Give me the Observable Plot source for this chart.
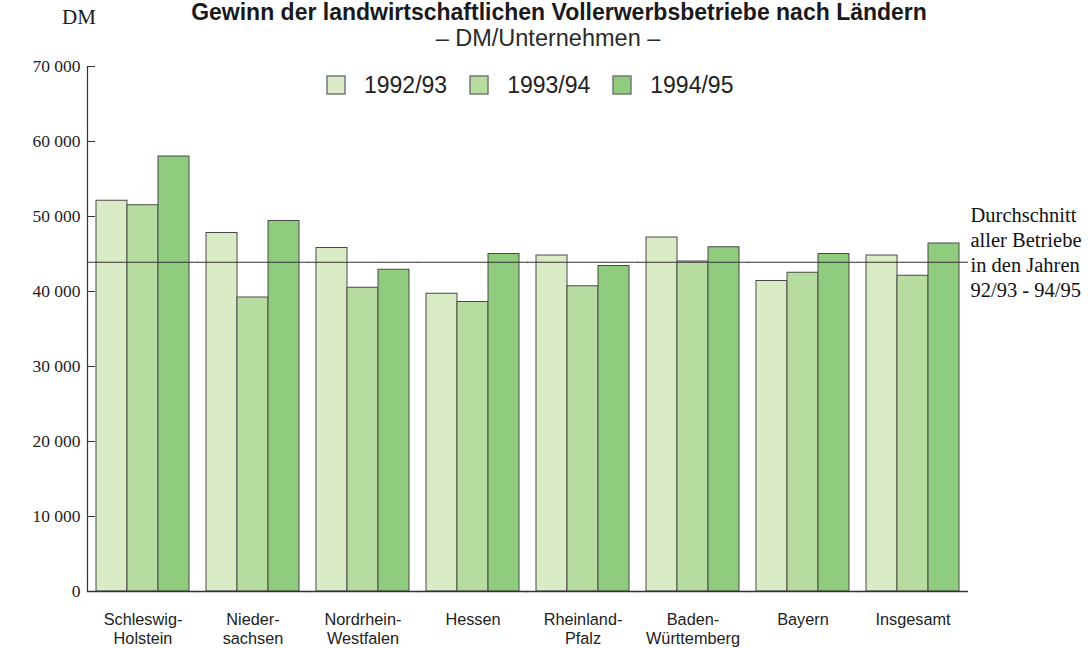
<!DOCTYPE html>
<html><head><meta charset="utf-8">
<script src="https://cdn.jsdelivr.net/npm/d3@7"></script>
<script src="https://cdn.jsdelivr.net/npm/@observablehq/plot@0.6"></script>
<style>
body{margin:0;background:#fff;}
#wrap{position:relative;width:1091px;height:648px;overflow:hidden;background:#fff;}
#title{position:absolute;left:0;width:1118px;top:0px;text-align:center;font:bold 23px "Liberation Sans",Arial,sans-serif;line-height:24px;color:#1a1a1a;white-space:nowrap;}
#subtitle{position:absolute;left:0;width:1096px;top:25px;text-align:center;font:23.5px "Liberation Sans",Arial,sans-serif;line-height:26px;color:#2a2a2a;white-space:nowrap;}
#dm{position:absolute;left:62px;top:5px;font:21px "Liberation Serif","Times New Roman",serif;color:#1a1a1a;}
#legend{position:absolute;left:327px;top:70px;}
#legend .leg-swatches{font:23px "Liberation Sans",Arial,sans-serif;color:#222;margin:0;}
#legend .leg-swatches-wrap{min-height:30px;}
#legend .leg-swatches-wrap .leg-swatch{margin-right:23px;}
#legend .leg-swatch > svg{margin-right:19px;stroke:#777;stroke-width:1.5px;overflow:visible;}
#chart{position:absolute;left:0;top:0;}
</style>
</head><body>
<div id="wrap">
  <div id="chart"></div>
  <div id="title"></div>
  <div id="subtitle"></div>
  <div id="dm"></div>
  <div id="legend"></div>
</div>
<script>
const titleText = "Gewinn der landwirtschaftlichen Vollerwerbsbetriebe nach Ländern";
const subtitleText = "– DM/Unternehmen –";
const unitText = "DM";
const states = ["Schleswig-Holstein","Niedersachsen","Nordrhein-Westfalen","Hessen","Rheinland-Pfalz","Baden-Württemberg","Bayern","Insgesamt"];
const stateLabels = ["Schleswig-\nHolstein","Nieder-\nsachsen","Nordrhein-\nWestfalen","Hessen","Rheinland-\nPfalz","Baden-\nWürttemberg","Bayern","Insgesamt"];
const years = ["1992/93","1993/94","1994/95"];
const values9293 = [52100,47800,45800,39700,44800,47200,41400,44800];
const values9394 = [51500,39200,40500,38600,40700,44000,42500,42100];
const values9495 = [58000,49400,42900,45000,43400,45900,45000,46400];
const average = 43900;
const averageNote = "Durchschnitt\naller Betriebe\nin den Jahren\n92/93 - 94/95";
const yTicks = [0,10000,20000,30000,40000,50000,60000,70000];
const colors = ["#d9ecc6","#b6dc9f","#8fcc7d"];

const series = [values9293, values9394, values9495];
const data = states.flatMap((s, i) => years.map((y, j) => ({state: s, year: y, value: series[j][i]})));
const fmt = d => d3.format(",")(d).replace(/,/g, " ");

document.getElementById("title").textContent = titleText;
document.getElementById("subtitle").textContent = subtitleText;
document.getElementById("dm").textContent = unitText;

const chart = Plot.plot({
  width: 1091,
  height: 648,
  marginTop: 66,
  marginBottom: 57,
  marginLeft: 87,
  marginRight: 123,
  style: {color: "#222", background: "transparent"},
  fx: {domain: states, paddingInner: 0.136, paddingOuter: 0.07},
  x: {domain: years, padding: 0, axis: null},
  y: {domain: [0, 70000]},
  color: {domain: years, range: colors},
  marks: [
    Plot.barY(data, {fx: "state", x: "year", y: "value", fill: "year", stroke: "#4a4a4a", strokeWidth: 1}),
    Plot.ruleY([0], {insetLeft: -8, insetRight: -8, stroke: "#333", strokeWidth: 1.3}),
    Plot.ruleY([average], {insetLeft: -8, insetRight: -8, stroke: "#333", strokeWidth: 1.2}),
    Plot.frame({anchor: "left", facetAnchor: "left", dx: -8, stroke: "#333", strokeWidth: 1.2}),
    Plot.axisY(yTicks, {tickFormat: fmt, tickSize: -8, tickPadding: 15, dx: -8, fontSize: 17.5, fontFamily: "Liberation Serif, Times New Roman, serif", label: null, stroke: "#333"}),
    Plot.axisFx({anchor: "bottom", tickFormat: d => stateLabels[states.indexOf(d)], tickSize: 0, tickPadding: 20, fontSize: 16.3, lineHeight: 1.18, fontFamily: "Liberation Sans, Arial, sans-serif", label: null}),
    Plot.text([average], {y: d => d, text: () => averageNote, frameAnchor: "right", facetAnchor: "right", textAnchor: "start", dx: 10, dy: -11, lineHeight: 1.22, fontSize: 20.5, fontFamily: "Liberation Serif, Times New Roman, serif", fill: "#111"})
  ]
});
document.getElementById("chart").appendChild(chart);
const leg = chart.legend("color", {swatchSize: 18, className: "leg"});
document.getElementById("legend").appendChild(leg);
</script>
</body></html>
